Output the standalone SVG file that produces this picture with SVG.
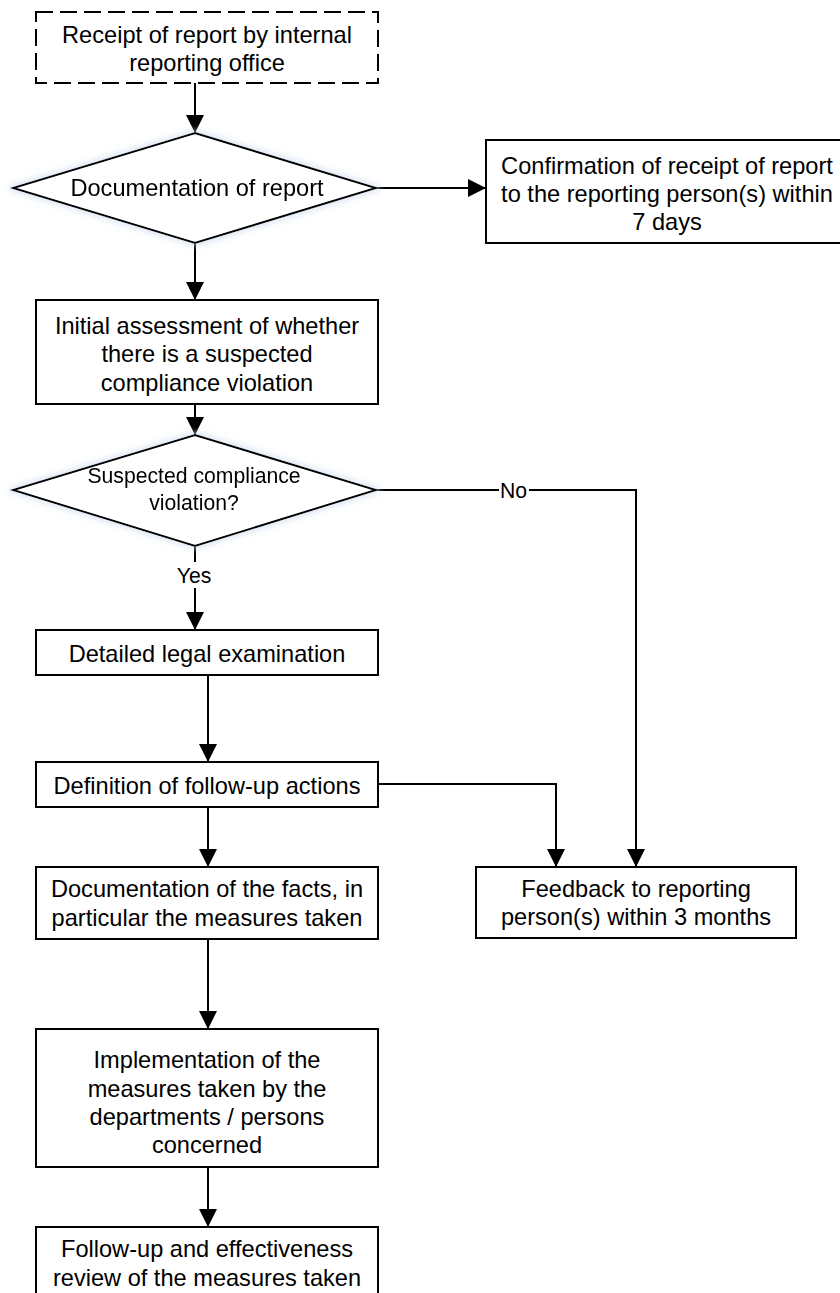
<svg xmlns="http://www.w3.org/2000/svg" width="840" height="1293" viewBox="0 0 840 1293">
<style>
  .box { fill: #ffffff; stroke: #000000; stroke-width: 2; }
  .dashed { stroke-dasharray: 17 7; }
  .dia { fill: #ffffff; stroke: #000000; stroke-width: 2; }
  .t { font-family: "Liberation Sans", Arial, sans-serif; font-size: 23.6px; fill: #000000; text-anchor: middle; }
  .ts { font-family: "Liberation Sans", Arial, sans-serif; font-size: 21.2px; fill: #000000; text-anchor: middle; }
  .line { fill: none; stroke: #000000; stroke-width: 2; }
  .lbl { fill: #ffffff; stroke: none; }
</style>
<defs>
  <marker id="arrow" viewBox="0 0 18 18" refX="18" refY="9" markerWidth="18" markerHeight="18" markerUnits="userSpaceOnUse" orient="auto">
    <path d="M0,0 L18,9 L0,18 Z" fill="#000000"/>
  </marker>
  <filter id="glow" x="-10%" y="-20%" width="120%" height="140%">
    <feMorphology in="SourceAlpha" operator="dilate" radius="2" result="d"/>
    <feGaussianBlur in="d" stdDeviation="3" result="b"/>
    <feFlood flood-color="#c9d9ee" flood-opacity="0.6"/>
    <feComposite in2="b" operator="in" result="g"/>
    <feMerge><feMergeNode in="g"/><feMergeNode in="SourceGraphic"/></feMerge>
  </filter>
</defs>
<rect width="840" height="1293" fill="#ffffff"/>

<g id="connectors">
  <path class="line" d="M195,83 L195,133" marker-end="url(#arrow)"/>
  <path class="line" d="M376,188 L486,188" marker-end="url(#arrow)"/>
  <path class="line" d="M195,243 L195,300" marker-end="url(#arrow)"/>
  <path class="line" d="M195,404 L195,435" marker-end="url(#arrow)"/>
  <path class="line" d="M376,490 L636,490 L636,867" marker-end="url(#arrow)"/>
  <path class="line" d="M195,546 L195,630" marker-end="url(#arrow)"/>
  <path class="line" d="M208,675 L208,762" marker-end="url(#arrow)"/>
  <path class="line" d="M378,784 L556,784 L556,867" marker-end="url(#arrow)"/>
  <path class="line" d="M208,807 L208,867" marker-end="url(#arrow)"/>
  <path class="line" d="M208,939 L208,1029" marker-end="url(#arrow)"/>
  <path class="line" d="M208,1167 L208,1227" marker-end="url(#arrow)"/>
  <g id="label-no">
    <rect class="lbl" x="499" y="478" width="30" height="24"/>
    <text class="ts" x="513.5" y="497.5">No</text>
  </g>
  <g id="label-yes">
    <rect class="lbl" x="175" y="562" width="38" height="26"/>
    <text class="ts" x="194" y="583">Yes</text>
  </g>
</g>

<g id="n1">
  <rect class="box dashed" x="36" y="12" width="342" height="71"/>
  <text class="t" x="207" y="43">Receipt of report by internal</text>
  <text class="t" x="207" y="71">reporting office</text>
</g>

<g id="n2" filter="url(#glow)">
  <polygon class="dia" points="195,133 376,188 195,243 13,188"/>
  <text class="t" x="197" y="196">Documentation of report</text>
</g>

<g id="n3">
  <rect class="box" x="486" y="140" width="362" height="103"/>
  <text class="t" x="667" y="174">Confirmation of receipt of report</text>
  <text class="t" x="667" y="202">to the reporting person(s) within</text>
  <text class="t" x="667" y="230">7 days</text>
</g>

<g id="n4">
  <rect class="box" x="36" y="300" width="342" height="104"/>
  <text class="t" x="207" y="334">Initial assessment of whether</text>
  <text class="t" x="207" y="362">there is a suspected</text>
  <text class="t" x="207" y="391">compliance violation</text>
</g>

<g id="n5" filter="url(#glow)">
  <polygon class="dia" points="195,435 376,490 195,546 13,490"/>
  <text class="ts" x="194" y="483">Suspected compliance</text>
  <text class="ts" x="194" y="510">violation?</text>
</g>

<g id="n6">
  <rect class="box" x="36" y="630" width="342" height="45"/>
  <text class="t" x="207" y="662">Detailed legal examination</text>
</g>

<g id="n7">
  <rect class="box" x="36" y="762" width="342" height="45"/>
  <text class="t" x="207" y="794">Definition of follow-up actions</text>
</g>

<g id="n8">
  <rect class="box" x="36" y="867" width="342" height="72"/>
  <text class="t" x="207" y="897">Documentation of the facts, in</text>
  <text class="t" x="207" y="926">particular the measures taken</text>
</g>

<g id="n9">
  <rect class="box" x="476" y="867" width="320" height="71"/>
  <text class="t" x="636" y="897">Feedback to reporting</text>
  <text class="t" x="636" y="925">person(s) within 3 months</text>
</g>

<g id="n10">
  <rect class="box" x="36" y="1029" width="342" height="138"/>
  <text class="t" x="207" y="1068">Implementation of the</text>
  <text class="t" x="207" y="1097">measures taken by the</text>
  <text class="t" x="207" y="1125">departments / persons</text>
  <text class="t" x="207" y="1153">concerned</text>
</g>

<g id="n11">
  <rect class="box" x="36" y="1227" width="342" height="80"/>
  <text class="t" x="207" y="1257">Follow-up and effectiveness</text>
  <text class="t" x="207" y="1286">review of the measures taken</text>
</g>
</svg>
